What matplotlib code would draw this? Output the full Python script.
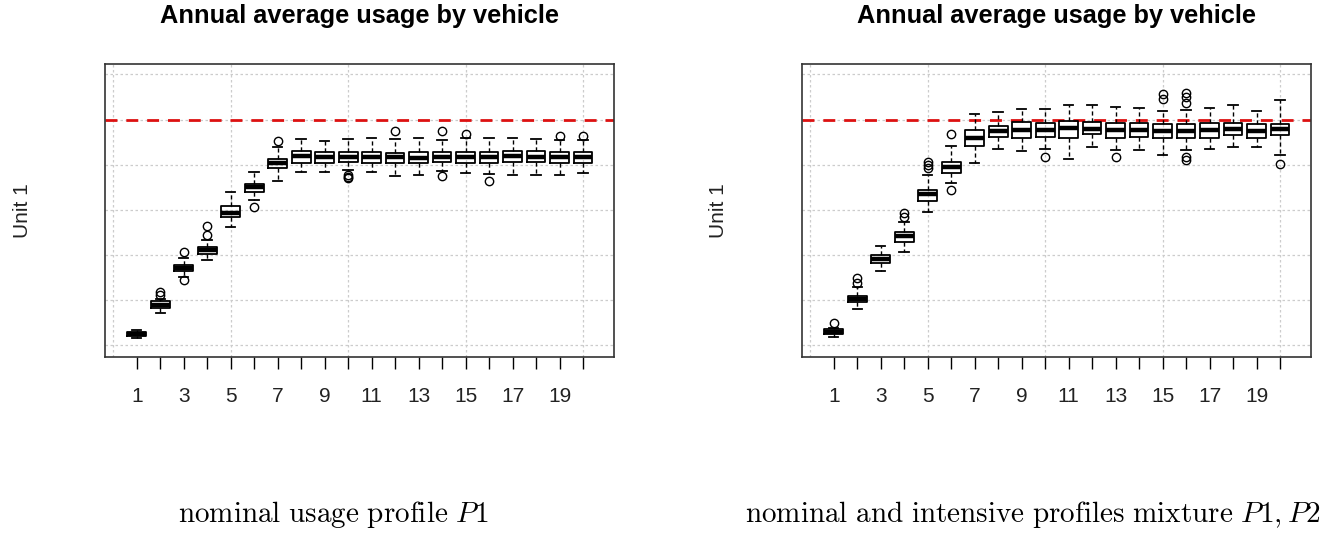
import matplotlib
matplotlib.use("Agg")
import matplotlib.pyplot as plt

plt.rcParams["font.family"] = ["Liberation Sans", "DejaVu Sans"]
plt.rcParams["mathtext.fontset"] = "cm"

vehicles = list(range(1, 21))
tick_labels = [str(v) if v % 2 else "" for v in vehicles]
y_ticks = [0, 1, 2, 3, 4, 5, 6]
grid_x = [0, 5, 10, 15, 20]
usage_limit = 5.0

# nominal usage profile P1 (in y-tick units)
p1_q1 = [0.21, 0.83, 1.65, 2.02, 2.85, 3.40, 3.92, 4.03, 4.03, 4.07,
         4.03, 4.04, 4.03, 4.07, 4.03, 4.04, 4.07, 4.05, 4.04, 4.03]
p1_med = [0.26, 0.90, 1.71, 2.11, 2.94, 3.51, 4.03, 4.19, 4.16, 4.18,
          4.16, 4.16, 4.14, 4.18, 4.16, 4.16, 4.19, 4.18, 4.16, 4.16]
p1_q3 = [0.30, 0.97, 1.78, 2.18, 3.08, 3.57, 4.13, 4.31, 4.29, 4.27,
         4.27, 4.25, 4.29, 4.29, 4.27, 4.29, 4.31, 4.30, 4.29, 4.29]
p1_lo = [0.15, 0.72, 1.52, 1.89, 2.61, 3.22, 3.64, 3.84, 3.84, 3.88,
         3.84, 3.76, 3.77, 3.85, 3.81, 3.79, 3.77, 3.77, 3.77, 3.81]
p1_hi = [0.34, 1.02, 1.93, 2.33, 3.40, 3.83, 4.39, 4.56, 4.53, 4.56,
         4.58, 4.56, 4.58, 4.55, 4.58, 4.58, 4.58, 4.56, 4.55, 4.55]
p1_out = [[], [1.11, 1.19], [2.07, 1.45], [2.44, 2.65], [], [3.06], [4.52],
          [], [], [3.77, 3.73, 3.70], [], [4.75], [], [4.75, 3.76],
          [4.68], [3.64], [], [], [4.63], [4.63]]

# nominal and intensive profiles mixture P1, P2
p12_q1 = [0.24, 0.95, 1.83, 2.28, 3.20, 3.81, 4.41, 4.62, 4.60, 4.62,
          4.58, 4.68, 4.60, 4.62, 4.60, 4.60, 4.60, 4.66, 4.60, 4.66]
p12_med = [0.30, 1.03, 1.92, 2.41, 3.35, 3.94, 4.58, 4.75, 4.77, 4.77,
           4.82, 4.80, 4.77, 4.77, 4.75, 4.75, 4.77, 4.78, 4.75, 4.80]
p12_q3 = [0.35, 1.10, 2.01, 2.50, 3.45, 4.07, 4.77, 4.86, 4.95, 4.93,
          4.97, 4.95, 4.92, 4.93, 4.90, 4.90, 4.92, 4.92, 4.90, 4.90]
p12_lo = [0.19, 0.81, 1.65, 2.07, 2.96, 3.60, 4.04, 4.34, 4.31, 4.34,
          4.13, 4.40, 4.32, 4.32, 4.21, 4.32, 4.34, 4.40, 4.40, 4.21]
p12_hi = [0.38, 1.28, 2.20, 2.74, 3.77, 4.41, 5.12, 5.17, 5.23, 5.23,
          5.32, 5.32, 5.28, 5.25, 5.20, 5.21, 5.26, 5.32, 5.20, 5.43]
p12_out = [[0.49], [1.48, 1.39], [], [2.92, 2.85], [4.07, 3.99, 3.92],
           [4.68, 3.44], [], [], [], [4.16], [], [], [4.16], [],
           [5.57, 5.45], [5.58, 5.50, 5.36, 4.18, 4.10], [], [], [], [4.01]]

W, H = 1341, 533
fig = plt.figure(figsize=(W / 100, H / 100), dpi=100)


def draw_panel(left_px, q1, med, q3, lo, hi, out, caption, cap_x):
    ax = fig.add_axes([left_px / W, (H - 357) / H, 509 / W, 293 / H])
    stats = []
    for i in range(len(vehicles)):
        stats.append(dict(q1=q1[i], med=med[i], q3=q3[i], whislo=lo[i],
                          whishi=hi[i], fliers=out[i]))
    ax.bxp(stats, positions=vehicles, widths=0.8, showfliers=True,
           boxprops=dict(color="black", linewidth=1.3),
           whiskerprops=dict(color="black", linewidth=1.0, linestyle=(0, (3, 2))),
           capprops=dict(color="black", linewidth=1.3),
           medianprops=dict(color="black", linewidth=3.2, solid_capstyle="butt"),
           flierprops=dict(marker="o", markerfacecolor="none",
                           markeredgecolor="black", markersize=6, markeredgewidth=1.0),
           capwidths=0.4, zorder=3)
    for gx in grid_x:
        ax.axvline(gx, color="#cccccc", linestyle=(0, (2, 2)), linewidth=0.9, zorder=0)
    ax.set_yticks(y_ticks)
    ax.yaxis.grid(True, color="#cccccc", linestyle=(0, (2, 2)), linewidth=0.9)
    ax.set_axisbelow(True)
    ax.axhline(usage_limit, color="#dd1111", linewidth=2,
               linestyle=(0, (4.3, 3.2)), zorder=2)
    ax.set_xlim(-0.35, 21.32)
    ax.set_ylim(-0.26, 6.23)
    ax.set_xticks(vehicles)
    ax.set_xticklabels(tick_labels, fontsize=15, color="#222222")
    ax.set_yticklabels([])
    ax.tick_params(axis="x", length=8.6, width=1.0, pad=13)
    ax.tick_params(axis="y", length=0)
    for s in ax.spines.values():
        s.set_color("#333333")
        s.set_linewidth(1.2)
    cx = (left_px + 509 / 2) / W
    fig.text(cx, 1 - 23 / H, "Annual average usage by vehicle", fontsize=18.3,
             fontweight="bold", ha="center", va="baseline")
    fig.text((left_px - 83) / W, (H - 211) / H, "Unit 1", fontsize=15,
             rotation=90, ha="center", va="center", color="#222222")
    fig.text(cap_x / W, 11 / H, caption, fontsize=21, ha="center", va="baseline")
    return ax


draw_panel(105, p1_q1, p1_med, p1_q3, p1_lo, p1_hi, p1_out,
           r"$\mathrm{nominal\ usage\ profile}\ P1$", 333)
draw_panel(802, p12_q1, p12_med, p12_q3, p12_lo, p12_hi, p12_out,
           r"$\mathrm{nominal\ and\ intensive\ profiles\ mixture}\ P1, P2$", 1033)

fig.savefig("out.png", dpi=100)
